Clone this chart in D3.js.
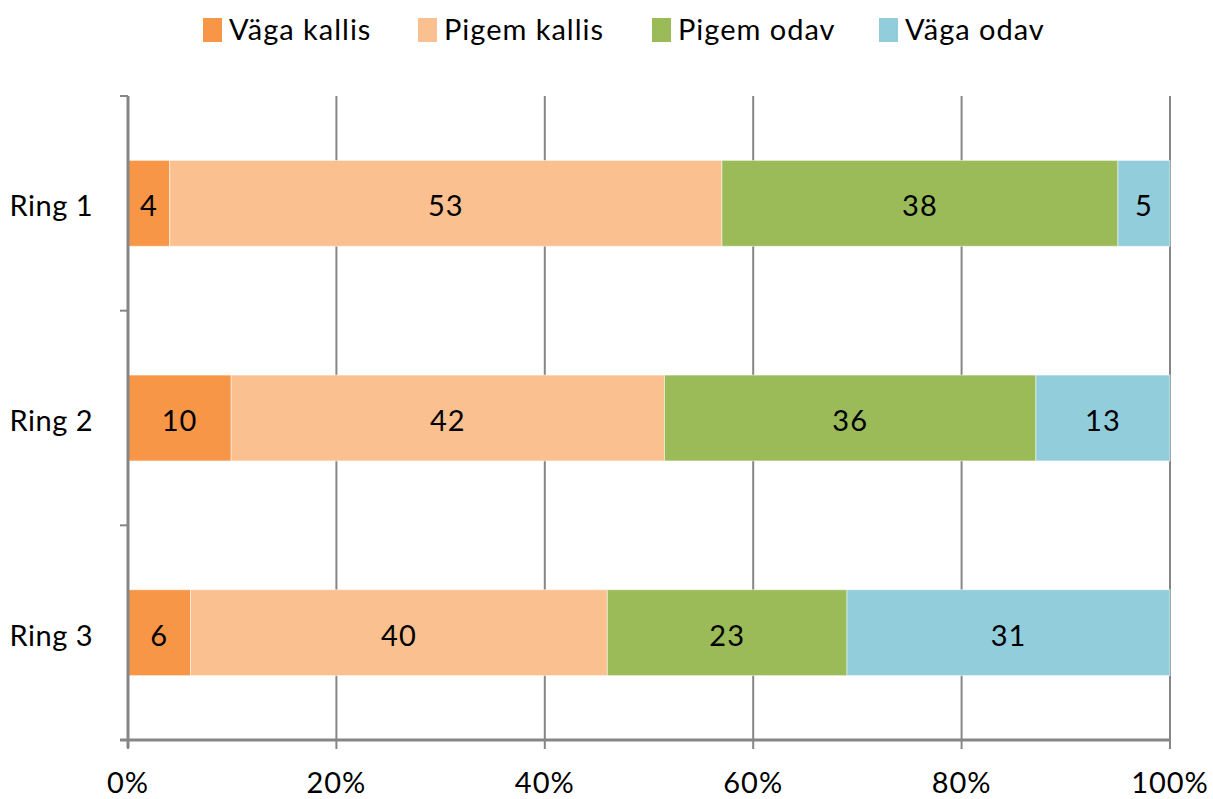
<!DOCTYPE html>
<html>
<head>
<meta charset="utf-8">
<script src="https://cdn.jsdelivr.net/npm/d3@7"></script>
<style>
  html, body { margin: 0; padding: 0; background: #fff; }
  svg { display: block; }
  text { font-family: Lato, "Open Sans", sans-serif; fill: #000; letter-spacing: 1px; }
  text.cat { letter-spacing: 0.5px; }
</style>
</head>
<body>
<svg id="chart" width="1213" height="799"></svg>
<script>
// Rings and answer shares
const categories = ["Ring 1", "Ring 2", "Ring 3"];
const seriesNames = ["Väga kallis", "Pigem kallis", "Pigem odav", "Väga odav"];
const vagaKallis  = [4, 10, 6];
const pigemKallis = [53, 42, 40];
const pigemOdav   = [38, 36, 23];
const vagaOdav    = [5, 13, 31];
const xTicks = [0, 0.2, 0.4, 0.6, 0.8, 1];
const colors = ["#F79646", "#FAC090", "#9BBB59", "#92CDDC"];

const seriesValues = [vagaKallis, pigemKallis, pigemOdav, vagaOdav];
const rows = categories.map((c, i) => {
  const r = { cat: c };
  seriesNames.forEach((s, j) => r[s] = seriesValues[j][i]);
  return r;
});

const svg = d3.select("#chart");
const margin = { left: 128, right: 43, top: 96, bottom: 59 };
const W = 1213, H = 799;
const fontSize = 29;
const x = d3.scaleLinear().domain([0, 1]).range([margin.left, W - margin.right]);
const y = d3.scaleBand().domain(categories).range([margin.top, H - margin.bottom]).paddingInner(0.6).paddingOuter(0.3);

const axisColor = "#868686";

// Vertical gridlines
svg.append("g").selectAll("line").data(xTicks.slice(1)).join("line")
  .attr("x1", d => x(d)).attr("x2", d => x(d))
  .attr("y1", margin.top).attr("y2", H - margin.bottom)
  .attr("stroke", axisColor).attr("stroke-width", 2);

// Stacked, normalised to 100%
const stack = d3.stack().keys(seriesNames).offset(d3.stackOffsetExpand);
const layers = stack(rows);

const g = svg.append("g");
layers.forEach((layer, li) => {
  g.append("g").selectAll("rect").data(layer).join("rect")
    .attr("x", d => x(d[0]))
    .attr("width", d => x(d[1]) - x(d[0]))
    .attr("y", d => y(d.data.cat))
    .attr("height", y.bandwidth())
    .attr("fill", colors[li])
    .attr("stroke", "rgba(255,255,255,0.5)")
    .attr("stroke-width", 1);
});
layers.forEach((layer, li) => {
  g.append("g").selectAll("text").data(layer).join("text")
    .attr("x", d => (x(d[0]) + x(d[1])) / 2)
    .attr("y", d => y(d.data.cat) + y.bandwidth() / 2 + 13)
    .attr("text-anchor", "middle")
    .attr("font-size", fontSize)
    .text(d => d.data[layer.key]);
});

// Category axis (left)
const yAxisG = svg.append("g");
yAxisG.append("line")
  .attr("x1", x(0)).attr("x2", x(0))
  .attr("y1", margin.top).attr("y2", H - margin.bottom + 8)
  .attr("stroke", axisColor).attr("stroke-width", 3);
const bandEdges = categories.map(c => y(c) - y.step() * y.paddingInner() / 2);
bandEdges.push(H - margin.bottom);
yAxisG.selectAll("line.tick").data(bandEdges).join("line").attr("class", "tick")
  .attr("x1", x(0) - 8).attr("x2", x(0))
  .attr("y1", d => d).attr("y2", d => d)
  .attr("stroke", axisColor).attr("stroke-width", 2);
yAxisG.selectAll("text").data(categories).join("text")
  .attr("class", "cat")
  .attr("x", 93).attr("y", d => y(d) + y.bandwidth() / 2 + 13)
  .attr("text-anchor", "end")
  .attr("font-size", fontSize)
  .text(d => d);

// Value axis (bottom)
const xAxisG = svg.append("g");
xAxisG.append("line")
  .attr("x1", x(0) - 8).attr("x2", x(1))
  .attr("y1", H - margin.bottom).attr("y2", H - margin.bottom)
  .attr("stroke", axisColor).attr("stroke-width", 3);
xAxisG.selectAll("line.tick").data(xTicks).join("line").attr("class", "tick")
  .attr("x1", d => x(d)).attr("x2", d => x(d))
  .attr("y1", H - margin.bottom).attr("y2", H - margin.bottom + 9)
  .attr("stroke", axisColor).attr("stroke-width", 2);
xAxisG.selectAll("text").data(xTicks).join("text")
  .attr("x", d => x(d)).attr("y", 793)
  .attr("text-anchor", "middle")
  .attr("font-size", fontSize)
  .text(d => d3.format(".0%")(d));

// Legend
const legendX = [203, 418, 652, 879];
const legend = svg.append("g");
seriesNames.forEach((s, i) => {
  legend.append("rect").attr("x", legendX[i]).attr("y", 18).attr("width", 19).attr("height", 24).attr("fill", colors[i]);
  legend.append("text").attr("x", legendX[i] + 26).attr("y", 40)
    .attr("font-size", fontSize).text(s);
});
</script>
</body>
</html>
